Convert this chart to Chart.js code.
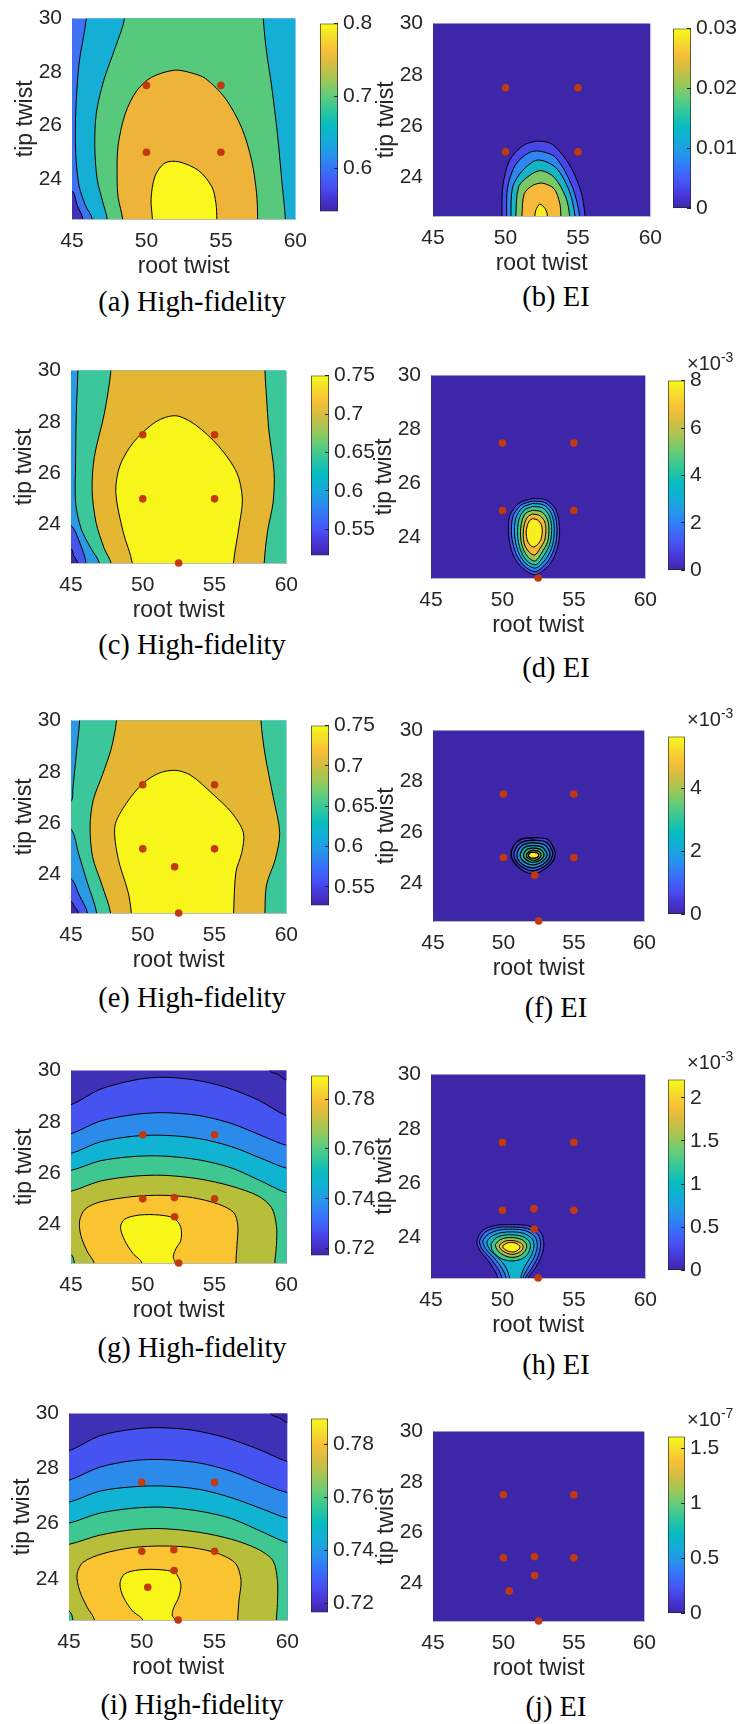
<!DOCTYPE html>
<html>
<head>
<meta charset="utf-8">
<title>High-fidelity and EI contours</title>
<script src="https://cdn.jsdelivr.net/npm/chart.js"></script>
<style>
  html, body { margin: 0; padding: 0; background: #fff; overflow: hidden; }
  #fig { position: relative; width: 740px; height: 1724px; overflow: hidden; }
  #fig canvas { position: absolute; }
  .cap { position: absolute; transform: translate(-50%, -50%); font: 28.5px/1 "Liberation Serif", "Times New Roman", serif; color: #000; white-space: nowrap; }
  .mult { position: absolute; transform: translateY(-50%); font: 20px/1 "Liberation Sans", Arial, sans-serif; color: #262626; white-space: nowrap; }
  .mult sup { font-size: 14px; vertical-align: 8px; }
</style>
</head>
<body>
<div id="fig"></div>
<script>
// axis ticks
const rootTicks = [45, 50, 55, 60];
const tipTicks = [24, 26, 28, 30];

// sample points (root twist, tip twist)
const dots4 = [[50, 27.5], [55, 27.5], [50, 25], [55, 25]];
const dots5 = [...dots4, [52.5, 22.5]];
const dots6 = [...dots5, [52.22, 24.3]];
const dots7 = [...dots6, [52.2, 25.05]];
const dots8 = [...dots7, [50.41, 23.69]];

// colorbar ranges and ticks
const rangeA = [0.541, 0.8], cbA = [0.6, 0.7, 0.8];
const rangeB = [0, 0.03], cbB = [0, 0.01, 0.02, 0.03];
const rangeC = [0.516, 0.75], cbC = [0.55, 0.6, 0.65, 0.7, 0.75];
const rangeD = [0, 8], cbD = [0, 2, 4, 6, 8];
const rangeE = [0.527, 0.75], cbE = [0.55, 0.6, 0.65, 0.7, 0.75];
const rangeF = [0, 5.64], cbF = [0, 2, 4];
const rangeG = [0.7173, 0.7894], cbG = [0.72, 0.74, 0.76, 0.78];
const rangeH = [0, 2.21], cbH = [0, 0.5, 1, 1.5, 2];
const rangeI = [0.7165, 0.7897], cbI = [0.72, 0.74, 0.76, 0.78];
const rangeJ = [0, 1.61], cbJ = [0, 0.5, 1, 1.5];

// (a) contour lines
const aL0 = [[45, 23.56], [45.36, 23.0], [45.73, 22.5]];
const aL1 = [[45.96, 30], [45.47, 28.3], [45.25, 26.45], [45.25, 24.98], [45.47, 23.75], [45.91, 23.0], [46.36, 22.5]];
const aL2 = [[48.53, 30], [47.91, 28.92], [47.13, 27.68], [46.63, 26.45], [46.53, 25.22], [46.69, 23.99], [47.07, 23.13], [47.36, 22.5]];
const aL3 = [[48.4, 22.5], [48.1, 23.3], [48.03, 23.99], [48.09, 25.22], [48.58, 26.45], [49.36, 27.31], [50.36, 27.81], [51.9, 28.07], [53.0, 27.97], [53.96, 27.76], [55.29, 27.02], [56.4, 25.91], [57.07, 24.68], [57.4, 23.45], [57.47, 22.5]];
const aL4 = [[50.4, 22.5], [50.31, 23.25], [50.58, 24.11], [51.25, 24.6], [52.18, 24.64], [53.51, 24.31], [54.4, 23.7], [54.67, 23.08], [54.73, 22.5]];
const aL5 = [[57.85, 30], [58.07, 28.74], [58.4, 27.51], [58.8, 25.67], [59.11, 23.82], [59.33, 22.5]];

// (b)
const bL1 = [[49.76, 22.5], [49.81, 23.63], [50.27, 24.65], [51.18, 25.23], [52.21, 25.42], [53.24, 25.29], [54.39, 24.52], [55.19, 23.5], [55.49, 22.5]];
const bL2 = [[50.08, 22.5], [50.15, 23.63], [50.72, 24.52], [51.64, 24.97], [52.33, 25.03], [53.47, 24.78], [54.62, 23.63], [55.12, 22.5]];
const bL3 = [[50.38, 22.5], [50.5, 23.63], [51.18, 24.27], [52.21, 24.68], [53.47, 24.39], [54.39, 23.5], [54.8, 22.5]];
const bL4 = [[50.72, 22.5], [50.91, 23.63], [51.64, 24.07], [52.44, 24.27], [53.36, 24.01], [54.16, 23.24], [54.43, 22.5]];
const bL5 = [[51.14, 22.5], [51.3, 23.37], [51.87, 23.69], [52.56, 23.78], [53.36, 23.56], [53.75, 22.99], [53.82, 22.5]];
const bL6 = [[52.03, 22.5], [52.1, 22.73], [52.37, 22.96], [52.74, 22.79], [52.9, 22.5]];

// (c)
const cL0 = [[45, 23.06], [45.19, 22.78], [45.48, 22.5]];
const cL1 = [[45, 23.96], [45.59, 23.32], [46.05, 22.5]];
const cL2 = [[45.48, 30], [45.37, 28.32], [45.32, 26.4], [45.32, 24.86], [45.71, 23.83], [46.4, 23.06], [46.97, 22.5]];
const cL3 = [[47.78, 30], [47.32, 28.32], [46.63, 26.65], [46.47, 25.37], [46.74, 24.09], [47.32, 23.06], [47.78, 22.5]];
const cL4 = [[49.27, 22.5], [48.63, 23.72], [48.12, 25.25], [48.4, 26.28], [49.32, 27.18], [50.93, 28.01], [52.3, 28.24], [53.68, 27.88], [55.29, 27.05], [56.55, 26.02], [56.94, 25.0], [56.72, 23.97], [56.32, 22.5]];
const cL5 = [[58.51, 30], [58.62, 28.97], [58.78, 27.69], [59.15, 26.02], [59.08, 24.87], [58.69, 23.72], [58.46, 22.5]];

// (d) closed rings, outer to inner
const dR1 = [[52.1, 25.45], [53.02, 25.4], [53.71, 25.06], [53.99, 24.45], [53.9, 23.72], [53.37, 23.05], [52.33, 22.62], [51.45, 22.84], [50.75, 23.35], [50.43, 24.09], [50.52, 24.82], [51.17, 25.28]];
const dR2 = [[52.1, 25.35], [52.95, 25.3], [53.55, 25.0], [53.81, 24.45], [53.71, 23.74], [53.2, 23.13], [52.33, 22.74], [51.54, 22.94], [50.94, 23.41], [50.64, 24.09], [50.73, 24.77], [51.29, 25.2]];
const dR3 = [[52.1, 25.26], [52.88, 25.21], [53.39, 24.93], [53.62, 24.43], [53.53, 23.77], [53.07, 23.23], [52.33, 22.87], [51.63, 23.04], [51.1, 23.48], [50.85, 24.09], [50.94, 24.72], [51.4, 25.11]];
const dR4 = [[52.1, 25.15], [52.79, 25.1], [53.25, 24.84], [53.44, 24.4], [53.34, 23.8], [52.9, 23.33], [52.33, 22.99], [51.73, 23.13], [51.26, 23.55], [51.06, 24.09], [51.15, 24.66], [51.52, 25.01]];
const dR5 = [[52.1, 25.01], [52.7, 24.96], [53.09, 24.74], [53.25, 24.38], [53.16, 23.84], [52.74, 23.43], [52.3, 23.13], [51.82, 23.26], [51.42, 23.62], [51.26, 24.09], [51.36, 24.6], [51.63, 24.9]];
const dR6 = [[52.1, 24.87], [52.58, 24.82], [52.93, 24.62], [53.04, 24.33], [52.95, 23.9], [52.6, 23.57], [52.26, 23.35], [51.89, 23.45], [51.56, 23.72], [51.45, 24.11], [51.54, 24.51], [51.77, 24.77]];
const dR7 = [[52.1, 24.7], [52.46, 24.65], [52.72, 24.48], [52.79, 24.26], [52.72, 23.96], [52.46, 23.74], [52.19, 23.65], [51.93, 23.72], [51.73, 23.91], [51.66, 24.18], [51.73, 24.43], [51.89, 24.62]];

// (e)
const eL0 = [[45, 22.95], [45.25, 22.74], [45.53, 22.5]];
const eL1 = [[45, 23.84], [45.57, 23.2], [46.15, 22.5]];
const eL2a = [[45.6, 30], [45.37, 28.7], [45.14, 27.42], [45, 26.85]];
const eL2b = [[45, 25.77], [45.53, 24.81], [46.15, 23.66], [46.79, 22.5]];
const eL3 = [[48.17, 30], [47.8, 28.9], [47.2, 27.9], [46.55, 26.9], [46.33, 25.9], [46.5, 24.7], [47.15, 23.6], [47.76, 22.5]];
const eL4 = [[49.2, 22.5], [48.97, 23.33], [48.29, 24.61], [48.06, 25.89], [48.86, 26.78], [50.01, 27.55], [51.16, 27.96], [52.31, 28.06], [53.34, 27.87], [54.83, 27.16], [56.21, 26.4], [57.01, 25.63], [56.9, 24.86], [56.49, 24.1], [56.33, 22.5]];
const eL5 = [[58.23, 30], [58.51, 28.7], [59.08, 27.04], [59.54, 25.63], [59.24, 24.61], [58.62, 23.59], [58.51, 22.5]];

// (f) closed rings
const fR1 = [[52.08, 25.78], [53.13, 25.72], [53.6, 25.33], [53.67, 25.07], [53.37, 24.75], [52.66, 24.45], [52.08, 24.36], [51.49, 24.45], [50.84, 24.75], [50.55, 25.07], [50.72, 25.46], [51.26, 25.72]];
const fR2 = [[52.08, 25.69], [53.02, 25.61], [53.44, 25.3], [53.48, 25.07], [53.2, 24.78], [52.59, 24.55], [52.08, 24.47], [51.56, 24.55], [51.0, 24.78], [50.74, 25.07], [50.91, 25.41], [51.33, 25.61]];
const fR3 = [[52.08, 25.59], [52.9, 25.51], [53.25, 25.26], [53.3, 25.07], [53.06, 24.84], [52.55, 24.65], [52.08, 24.59], [51.61, 24.65], [51.14, 24.84], [50.95, 25.07], [51.09, 25.33], [51.42, 25.51]];
const fR4 = [[52.1, 25.48], [52.73, 25.42], [53.04, 25.22], [53.09, 25.07], [52.87, 24.89], [52.48, 24.76], [52.1, 24.71], [51.7, 24.76], [51.33, 24.9], [51.19, 25.07], [51.3, 25.28], [51.56, 25.42]];
const fR5 = [[52.12, 25.38], [52.59, 25.33], [52.83, 25.2], [52.87, 25.07], [52.71, 24.94], [52.43, 24.85], [52.12, 24.81], [51.8, 24.85], [51.54, 24.95], [51.42, 25.07], [51.52, 25.22], [51.7, 25.33]];
const fR6 = [[52.12, 25.29], [52.45, 25.25], [52.64, 25.16], [52.66, 25.07], [52.55, 24.98], [52.36, 24.91], [52.12, 24.89], [51.89, 24.93], [51.7, 24.99], [51.63, 25.07], [51.7, 25.17], [51.87, 25.25]];
const fR7 = [[52.12, 25.21], [52.36, 25.19], [52.48, 25.13], [52.5, 25.07], [52.43, 25.02], [52.29, 24.98], [52.12, 24.97], [51.94, 24.99], [51.82, 25.03], [51.77, 25.08], [51.82, 25.15], [51.96, 25.2]];

// (g)
const gL0 = [[58.85, 30], [59.43, 29.85], [60, 29.63]];
const gL1 = [[45, 28.67], [47.02, 29.27], [49.32, 29.62], [51.16, 29.74], [53.45, 29.65], [55.75, 29.36], [58.05, 28.85], [60, 28.25]];
const gL2 = [[45, 27.54], [47.02, 28.03], [49.32, 28.28], [51.39, 28.36], [53.91, 28.25], [56.21, 27.93], [58.51, 27.41], [60, 27.09]];
const gL3 = [[45, 26.77], [47.02, 27.22], [49.32, 27.44], [51.39, 27.48], [53.91, 27.35], [56.21, 27.03], [58.51, 26.52], [60, 26.2]];
const gL4 = [[45, 26.11], [47.02, 26.48], [49.32, 26.65], [51.39, 26.67], [53.91, 26.52], [56.21, 26.2], [58.51, 25.62], [60, 25.24]];
const gL5 = [[45, 25.3], [47.02, 25.69], [49.32, 25.88], [51.39, 25.92], [53.91, 25.78], [56.21, 25.49], [58.05, 25.11], [58.97, 24.66], [59.31, 23.96], [59.31, 23.19], [59.2, 22.5]];
const gL6 = [[46.61, 22.5], [46.15, 22.93], [45.69, 23.57], [45.6, 24.15], [45.99, 24.6], [47.02, 24.88], [49.32, 25.09], [51.39, 25.14], [53.45, 25.05], [55.29, 24.79], [56.33, 24.47], [56.62, 23.96], [56.56, 23.19], [56.49, 22.5]];
const gL7 = [[49.94, 22.5], [49.32, 22.87], [48.74, 23.38], [48.45, 23.89], [48.74, 24.21], [49.78, 24.37], [51.16, 24.37], [52.19, 24.24], [52.65, 23.89], [52.65, 23.38], [52.31, 23.06], [52.12, 22.74], [52.26, 22.5]];
const gL8 = [[45, 22.83], [45.23, 22.5]];

// (h) rings: the outer four run off the bottom edge
const hR1 = [[49.67, 22.5], [49.37, 22.85], [48.86, 23.23], [48.4, 23.53], [48.21, 23.86], [48.63, 24.26], [49.55, 24.44], [50.71, 24.47], [51.86, 24.42], [52.67, 24.2], [52.9, 23.71], [52.67, 23.23], [52.21, 22.8], [51.82, 22.5]];
const hR2 = [[49.97, 22.5], [49.67, 22.85], [49.14, 23.23], [48.58, 23.57], [48.4, 23.86], [48.81, 24.2], [49.67, 24.36], [50.71, 24.38], [51.75, 24.32], [52.49, 24.1], [52.67, 23.71], [52.44, 23.23], [51.98, 22.8], [51.63, 22.5]];
const hR3 = [[50.25, 22.5], [49.97, 22.85], [49.44, 23.23], [48.86, 23.56], [48.63, 23.86], [49.04, 24.12], [49.78, 24.27], [50.71, 24.3], [51.63, 24.24], [52.28, 24.02], [52.44, 23.69], [52.21, 23.25], [51.75, 22.84], [51.45, 22.5]];
const hR4 = [[50.48, 22.5], [50.25, 22.88], [49.74, 23.23], [49.14, 23.53], [48.91, 23.83], [49.28, 24.05], [49.9, 24.17], [50.71, 24.2], [51.52, 24.14], [52.1, 23.93], [52.21, 23.65], [51.98, 23.29], [51.52, 22.88], [51.29, 22.5]];
const hR5 = [[49.21, 23.77], [49.55, 23.98], [50.13, 24.08], [50.75, 24.09], [51.4, 24.03], [51.86, 23.86], [51.96, 23.65], [51.75, 23.37], [51.29, 23.19], [50.66, 23.13], [50.02, 23.19], [49.51, 23.37], [49.25, 23.56]];
const hR6 = [[49.51, 23.74], [49.83, 23.91], [50.25, 23.98], [50.75, 23.99], [51.29, 23.93], [51.63, 23.79], [51.7, 23.64], [51.52, 23.45], [51.12, 23.3], [50.66, 23.26], [50.13, 23.33], [49.74, 23.47], [49.55, 23.62]];
const hR7 = [[49.78, 23.71], [50.06, 23.83], [50.36, 23.88], [50.75, 23.88], [51.12, 23.83], [51.4, 23.74], [51.45, 23.62], [51.29, 23.48], [50.99, 23.4], [50.66, 23.37], [50.29, 23.42], [49.97, 23.52], [49.81, 23.62]];
const hR8 = [[50.02, 23.69], [50.25, 23.77], [50.48, 23.81], [50.75, 23.81], [51.03, 23.76], [51.19, 23.69], [51.22, 23.62], [51.1, 23.53], [50.87, 23.47], [50.64, 23.46], [50.36, 23.5], [50.13, 23.57], [50.04, 23.63]];

// (i)
const iL0 = [[58.86, 30], [59.48, 29.84], [60, 29.67]];
const iL1 = [[45, 28.65], [47.09, 29.19], [49.36, 29.43], [51.18, 29.49], [53.45, 29.4], [55.73, 29.13], [58.0, 28.71], [60, 28.26]];
const iL2 = [[45, 27.58], [47.09, 28.05], [49.36, 28.29], [51.41, 28.33], [53.91, 28.21], [56.18, 27.9], [58.45, 27.42], [60, 27.13]];
const iL3 = [[45, 26.78], [47.09, 27.18], [49.36, 27.34], [51.41, 27.37], [53.91, 27.25], [56.18, 26.94], [58.45, 26.5], [60, 26.2]];
const iL4 = [[45, 26.02], [47.09, 26.38], [49.36, 26.56], [51.41, 26.6], [53.91, 26.46], [56.18, 26.18], [58.45, 25.66], [60, 25.31]];
const iL5 = [[45, 25.25], [47.09, 25.58], [49.36, 25.78], [51.41, 25.82], [53.91, 25.69], [56.18, 25.43], [58.0, 25.07], [59.02, 24.65], [59.32, 23.93], [59.32, 23.1], [59.25, 22.5]];
const iL6 = [[46.75, 22.5], [46.23, 22.98], [45.73, 23.57], [45.55, 24.15], [45.95, 24.59], [47.32, 24.91], [49.36, 25.13], [51.41, 25.19], [53.45, 25.13], [55.27, 24.91], [56.45, 24.55], [56.82, 23.93], [56.68, 23.22], [56.59, 22.5]];
const iL7 = [[50.05, 22.5], [49.36, 22.83], [48.73, 23.34], [48.5, 23.81], [48.8, 24.17], [49.82, 24.32], [51.18, 24.33], [52.27, 24.22], [52.68, 23.81], [52.55, 23.34], [52.2, 22.95], [52.09, 22.68], [52.27, 22.5]];
const iL8 = [[45, 22.83], [45.27, 22.5]];

// colormap used for the colorbars
const parulaStops = [
  [0.00, '#3E26A8'], [0.07, '#4636D6'], [0.14, '#4852F4'], [0.22, '#3772FA'], [0.30, '#2794EB'],
  [0.38, '#12ADD8'], [0.46, '#07BDBF'], [0.54, '#31C79B'], [0.62, '#64CD7A'], [0.70, '#A0C755'],
  [0.78, '#D3BD42'], [0.86, '#F9BF37'], [0.94, '#F4E12A'], [1.00, '#F9FB15']
];

// helpers to close regions outside the frame (gets clipped)
const BL = [44, 21.5], BR = [61, 21.5], TL = [44, 31], TR = [61, 31];
const FRAME = [BL, BR, TR, TL];
const ext = line => {
  const edge = p => p[1] >= 30 ? [p[0], 31] : p[1] <= 22.5 ? [p[0], 21.5] : p[0] <= 45 ? [44, p[1]] : p[0] >= 60 ? [61, p[1]] : null;
  const s = edge(line[0]), e = edge(line[line.length - 1]);
  return [...(s ? [s] : []), ...line, ...(e ? [e] : [])];
};
const loop = ring => [...ring, ring[0]];
const rev = a => a.slice().reverse();
const xy = a => a.map(p => ({ x: p[0], y: p[1] }));

const panels = [
  { plot: [72, 16, 225, 203], bar: [320, 16, 18, 203], range: rangeA, ticks: cbA, cap: '(a) High-fidelity', capAt: [192, 302], dots: dots4,
    fills: [['#3F72F3', FRAME], ['#4330B8', [...ext(aL0), BL]], ['#15AFD6', [...ext(aL1), BR, TR]],
            ['#56C97C', [...ext(aL2), ...rev(ext(aL5))]], ['#EEB43A', ext(aL3)], ['#F8F61A', ext(aL4)]],
    lines: [aL0, aL1, aL2, aL3, aL4, aL5].map(ext) },
  { plot: [433, 21, 219, 195], bar: [673, 21, 18, 195], range: rangeB, ticks: cbB, cap: '(b) EI', capAt: [556, 297], dots: dots4,
    fills: [['#3E26A8', FRAME], ['#4848E8', ext(bL1)], ['#2E86EE', ext(bL2)], ['#18B4C6', ext(bL3)],
            ['#7AC868', ext(bL4)], ['#F6B93A', ext(bL5)], ['#F7F01E', ext(bL6)]],
    lines: [bL1, bL2, bL3, bL4, bL5, bL6].map(ext) },
  { plot: [71, 368, 217, 195], bar: [311, 368, 18, 195], range: rangeC, ticks: cbC, cap: '(c) High-fidelity', capAt: [192, 645], dots: dots5,
    fills: [['#2A9BE2', FRAME], ['#4556EC', [...ext(cL1), BL]], ['#3F2AAE', [...ext(cL0), BL]], ['#3CC79B', [...ext(cL2), BR, TR]],
            ['#E4B631', [...ext(cL3), ...rev(ext(cL5))]], ['#F7F519', ext(cL4)]],
    lines: [cL0, cL1, cL2, cL3, cL4, cL5].map(ext) },
  { plot: [431, 373, 216, 205], bar: [668, 373, 17, 205], range: rangeD, ticks: cbD, exp: '-3', cap: '(d) EI', capAt: [556, 668], dots: dots5,
    fills: [['#3E26A8', FRAME], ['#4548E2', loop(dR1)], ['#2E86EE', loop(dR2)], ['#16B1D2', loop(dR3)], ['#39C59C', loop(dR4)],
            ['#9EC452', loop(dR5)], ['#F5B93A', loop(dR6)], ['#F8EE1E', loop(dR7)]],
    lines: [dR1, dR2, dR3, dR4, dR5, dR6, dR7].map(loop) },
  { plot: [71, 718, 217, 195], bar: [311, 718, 18, 195], range: rangeE, ticks: cbE, cap: '(e) High-fidelity', capAt: [192, 998], dots: dots6,
    fills: [['#2A9BE2', FRAME], ['#4556EC', [...ext(eL1), BL]], ['#3F2AAE', [...ext(eL0), BL]], ['#3CC79B', [...ext(eL2a), ...ext(eL2b), BR, TR]],
            ['#E4B631', [...ext(eL3), ...rev(ext(eL5))]], ['#F7F519', ext(eL4)]],
    lines: [eL0, eL1, eL2a, eL2b, eL3, eL4, eL5].map(ext) },
  { plot: [433, 728, 213, 193], bar: [668, 729, 17, 193], range: rangeF, ticks: cbF, exp: '-3', cap: '(f) EI', capAt: [556, 1008], dots: dots6, lineWidth: 1.4,
    fills: [['#3E26A8', FRAME], ['#4440D8', loop(fR1)], ['#3468F2', loop(fR2)], ['#2193E5', loop(fR3)], ['#12B5C8', loop(fR4)],
            ['#45C58E', loop(fR5)], ['#C9BE45', loop(fR6)], ['#F8EC1F', loop(fR7)]],
    lines: [fR1, fR2, fR3, fR4, fR5, fR6, fR7].map(loop) },
  { plot: [71, 1068, 217, 195], bar: [311, 1068, 18, 195], range: rangeG, ticks: cbG, cap: '(g) High-fidelity', capAt: [192, 1348], dots: dots7,
    fills: [['#3F31B6', FRAME], ['#3C27A6', [...ext(gL0), TR]], ['#4553F1', [...ext(gL1), BR, BL]], ['#2C8BEA', [...ext(gL2), BR, BL]],
            ['#10B3D2', [...ext(gL3), BR, BL]], ['#3FC792', [...ext(gL4), BR, BL]], ['#B7BF3A', [...ext(gL5), BL]],
            ['#3FC792', [...ext(gL8), BL]], ['#FAC431', ext(gL6)], ['#F8F519', ext(gL7)]],
    lines: [gL0, gL1, gL2, gL3, gL4, gL5, gL6, gL7, gL8].map(ext) },
  { plot: [431, 1072, 216, 206], bar: [668, 1072, 17, 206], range: rangeH, ticks: cbH, exp: '-3', cap: '(h) EI', capAt: [556, 1365], dots: dots7,
    fills: [['#3E26A8', FRAME], ['#4445DF', ext(hR1)], ['#3370F0', ext(hR2)], ['#1E9AE3', ext(hR3)], ['#0FB3CC', ext(hR4)],
            ['#3BC591', loop(hR5)], ['#A3C350', loop(hR6)], ['#F4BA3B', loop(hR7)], ['#F8F01E', loop(hR8)]],
    lines: [...[hR1, hR2, hR3, hR4].map(ext), ...[hR5, hR6, hR7, hR8].map(loop)] },
  { plot: [69, 1411, 220, 209], bar: [311, 1411, 17, 209], range: rangeI, ticks: cbI, cap: '(i) High-fidelity', capAt: [192, 1705], dots: dots8,
    fills: [['#3F31B6', FRAME], ['#3C27A6', [...ext(iL0), TR]], ['#4553F1', [...ext(iL1), BR, BL]], ['#2C8BEA', [...ext(iL2), BR, BL]],
            ['#10B3D2', [...ext(iL3), BR, BL]], ['#3FC792', [...ext(iL4), BR, BL]], ['#B7BF3A', [...ext(iL5), BL]],
            ['#3FC792', [...ext(iL8), BL]], ['#FAC431', ext(iL6)], ['#F8F519', ext(iL7)]],
    lines: [iL0, iL1, iL2, iL3, iL4, iL5, iL6, iL7, iL8].map(ext) },
  { plot: [433, 1429, 213, 192], bar: [668, 1429, 17, 192], range: rangeJ, ticks: cbJ, exp: '-7', cap: '(j) EI', capAt: [556, 1707], dots: dots8,
    fills: [['#3E26A8', FRAME]],
    lines: [] }
];

Chart.defaults.font.family = "'Liberation Sans', Arial, sans-serif";
Chart.defaults.color = '#262626';

const fig = document.getElementById('fig');
const INK = '#262626';

function addCanvas(left, top, w, h) {
  const cv = document.createElement('canvas');
  cv.width = w; cv.height = h;
  cv.style.left = left + 'px'; cv.style.top = top + 'px';
  cv.style.width = w + 'px'; cv.style.height = h + 'px';
  fig.appendChild(cv);
  return cv;
}

function drawContour(p) {
  const [L, T, W, H] = p.plot;
  const padTop = 20, padRight = 20, yw = 60, xh = 61;
  const cv = addCanvas(L - yw, T - padTop, W + yw + padRight, H + padTop + xh);

  const datasets = [];
  p.fills.forEach(([color, shape]) => datasets.push({
    data: xy(shape), fill: 'shape', backgroundColor: color, borderColor: 'transparent', borderWidth: 0
  }));
  p.lines.forEach(line => datasets.push({
    data: xy(line), fill: false, borderColor: '#000', borderWidth: p.lineWidth || 1
  }));
  datasets.push({
    data: xy(p.dots), showLine: false, borderWidth: 0, clip: false,
    pointRadius: 3.8, pointBackgroundColor: '#C23A0C', pointBorderWidth: 0
  });
  // first listed is drawn first
  datasets.forEach((d, i) => { d.order = -i; });

  new Chart(cv, {
    type: 'line',
    data: { datasets },
    options: {
      responsive: false, animation: false, events: [],
      layout: { padding: { top: padTop, right: padRight, left: 0, bottom: 0 } },
      elements: { line: { tension: 0.3, capBezierPoints: false }, point: { radius: 0 } },
      plugins: { legend: { display: false }, tooltip: { enabled: false } },
      scales: {
        x: {
          type: 'linear', min: 45, max: 60,
          afterBuildTicks: ax => { ax.ticks = rootTicks.map(v => ({ value: v })); },
          afterFit: ax => { ax.height = xh; },
          grid: { display: false, drawTicks: false },
          border: { display: true, color: 'rgba(120,120,120,0.5)', width: 1 },
          ticks: { padding: 10, color: INK, font: { size: 21 } },
          title: { display: true, text: 'root twist', padding: 0, color: INK, font: { size: 23 } }
        },
        y: {
          type: 'linear', min: 22.5, max: 30,
          afterBuildTicks: ax => { ax.ticks = tipTicks.map(v => ({ value: v })); },
          afterFit: ax => { ax.width = yw; },
          grid: { display: false, drawTicks: false },
          border: { display: true, color: 'rgba(120,120,120,0.5)', width: 1 },
          ticks: { padding: 10, color: INK, font: { size: 21 } },
          title: { display: true, text: 'tip twist', padding: 0, color: INK, font: { size: 23 } }
        }
      }
    }
  });
}

function parulaFill(chart) {
  const a = chart.chartArea;
  if (!a) return parulaStops[0][1];
  const g = chart.ctx.createLinearGradient(0, a.bottom, 0, a.top);
  parulaStops.forEach(s => g.addColorStop(s[0], s[1]));
  return g;
}

function drawColorbar(p) {
  const [L, T, W, H] = p.bar;
  const pad = 14, aw = 62;
  const cv = addCanvas(L, T - pad, W + aw, H + 2 * pad);
  new Chart(cv, {
    type: 'bar',
    data: {
      labels: [''],
      datasets: [{
        data: [p.range],
        backgroundColor: c => parulaFill(c.chart),
        borderColor: INK, borderWidth: 1, borderSkipped: false,
        barPercentage: 1, categoryPercentage: 1
      }]
    },
    options: {
      responsive: false, animation: false, events: [],
      layout: { padding: { top: pad, bottom: pad, left: 0, right: 0 } },
      plugins: { legend: { display: false }, tooltip: { enabled: false } },
      scales: {
        x: { display: false },
        y: {
          position: 'right', min: p.range[0], max: p.range[1],
          afterBuildTicks: ax => { ax.ticks = p.ticks.map(v => ({ value: v })); },
          afterFit: ax => { ax.width = aw; },
          // short inward tick marks on the right edge, drawn over the bar
          grid: { display: true, drawOnChartArea: false, drawTicks: true, tickLength: -4, color: INK, lineWidth: 1, z: 1 },
          border: { display: false },
          ticks: { padding: 9, color: INK, font: { size: 21 }, callback: v => String(+v.toFixed(4)) }
        }
      }
    }
  });
  if (p.exp) {
    const m = document.createElement('div');
    m.className = 'mult';
    m.style.left = (L + 19) + 'px';
    m.style.top = (T - 12) + 'px';
    m.innerHTML = '\u00d710<sup>' + p.exp + '</sup>';
    fig.appendChild(m);
  }
}

panels.forEach(p => {
  drawContour(p);
  drawColorbar(p);
  const c = document.createElement('div');
  c.className = 'cap';
  c.style.left = p.capAt[0] + 'px';
  c.style.top = p.capAt[1] + 'px';
  c.textContent = p.cap;
  fig.appendChild(c);
});
</script>
</body>
</html>
